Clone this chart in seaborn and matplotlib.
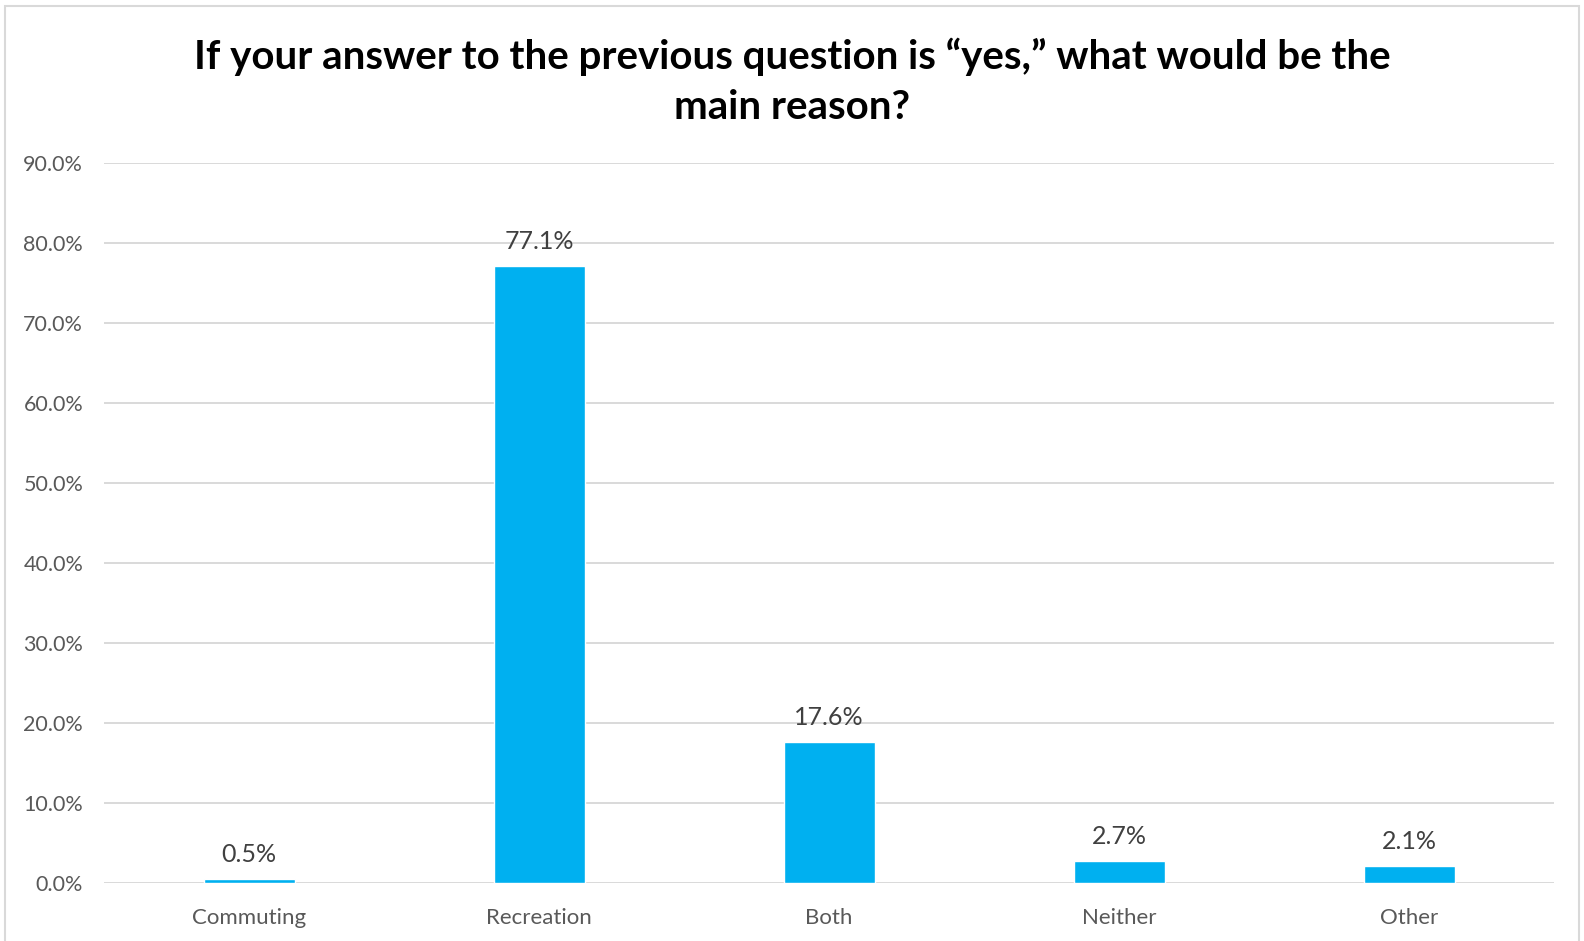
import matplotlib
matplotlib.use("Agg")
import matplotlib.pyplot as plt
import seaborn as sns
import pandas as pd
from matplotlib.patches import Rectangle

categories = ["Commuting", "Recreation", "Both", "Neither", "Other"]
shares = [0.5, 77.1, 17.6, 2.7, 2.1]
y_ticks = [0, 10, 20, 30, 40, 50, 60, 70, 80, 90]
title = "If your answer to the previous question is \u201cyes,\u201d what would be the\nmain reason?"

sns.set_theme(style="white")
plt.rcParams["font.family"] = ["Lato", "DejaVu Sans"]

df = pd.DataFrame({"reason": categories, "share": shares})

fig = plt.figure(figsize=(15.84, 9.41), dpi=100)
ax = fig.add_axes([0.0657, 0.0616, 0.9154, 0.7652])

sns.barplot(data=df, x="reason", y="share", color="#00B0F0", saturation=1,
            width=0.314, ax=ax)

ax.set_ylim(0, 90)
ax.set_xlim(-0.5, len(categories) - 0.5)
ax.set_yticks(y_ticks)
ax.set_yticklabels([f"{v:.1f}%" for v in y_ticks])
ax.yaxis.grid(True, color="#D9D9D9", linewidth=1.4)
ax.set_axisbelow(True)
for s in ax.spines.values():
    s.set_visible(False)
ax.tick_params(axis="y", length=0, pad=15, labelsize=15.5, labelcolor="#595959")
ax.tick_params(axis="x", length=0, pad=18, labelsize=16, labelcolor="#595959")
ax.set_xlabel("")
ax.set_ylabel("")

for cont in ax.containers:
    ax.bar_label(cont, labels=[f"{v:.1f}%" for v in shares], padding=9.5,
                 fontsize=18, color="#404040")

fig.text(0.5, 0.913, title, ha="center", va="center", fontsize=29,
         fontweight="bold", color="black", linespacing=1.42)

fig.patches.append(Rectangle((5 / 1584, -0.01), 1574 / 1584, 1 - 6 / 941 + 0.01,
                             transform=fig.transFigure, fill=False,
                             edgecolor="#D9D9D9", linewidth=1.5))

fig.savefig("out.png", dpi=100)
